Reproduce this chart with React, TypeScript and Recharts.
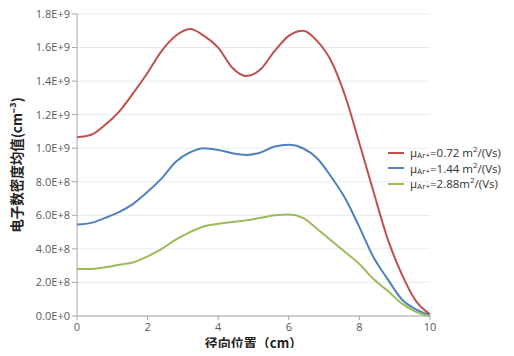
import React from "react";
import { LineChart, Line, XAxis, YAxis, CartesianGrid } from "recharts";

// radial position (cm)
const radius = [0, 0.4, 0.8, 1.2, 1.6, 2.0, 2.4, 2.8, 3.2, 3.6, 4.0, 4.4, 4.8, 5.2, 5.6, 6.0, 6.4, 6.8, 7.2, 7.6, 8.0, 8.4, 8.8, 9.2, 9.6, 10];

// mean electron density, in units of 1e9 cm^-3
const mu072 = [1.065, 1.08, 1.14, 1.22, 1.33, 1.45, 1.58, 1.67, 1.71, 1.67, 1.6, 1.48, 1.43, 1.47, 1.58, 1.67, 1.7, 1.64, 1.52, 1.31, 1.03, 0.74, 0.46, 0.25, 0.09, 0.01];
const mu144 = [0.545, 0.555, 0.585, 0.62, 0.67, 0.74, 0.82, 0.92, 0.975, 1.0, 0.99, 0.97, 0.96, 0.975, 1.01, 1.02, 1.0, 0.94, 0.83, 0.7, 0.53, 0.35, 0.22, 0.1, 0.04, 0.005];
const mu288 = [0.28, 0.28, 0.29, 0.305, 0.32, 0.355, 0.4, 0.455, 0.5, 0.535, 0.55, 0.56, 0.57, 0.585, 0.6, 0.605, 0.585, 0.52, 0.45, 0.38, 0.31, 0.22, 0.15, 0.075, 0.025, 0];

const xTicks = [0, 2, 4, 6, 8, 10];
const yTicks = [0, 2e8, 4e8, 6e8, 8e8, 1e9, 1.2e9, 1.4e9, 1.6e9, 1.8e9];

const seriesInfo = [
  { key: "a", value: "0.72", sep: " ", color: "#c0504d" },
  { key: "b", value: "1.44", sep: " ", color: "#4f81bd" },
  { key: "c", value: "2.88", sep: "", color: "#9bbb59" },
];

const data = radius.map((r, i) => ({
  r,
  a: mu072[i] * 1e9,
  b: mu144[i] * 1e9,
  c: mu288[i] * 1e9,
}));

const fmtY = (v: number) => v.toExponential(1).toUpperCase();

const tickFont = { fontSize: 11, fill: "#595959", fontFamily: "'Open Sans', sans-serif" };
const titleStyle = { fontSize: 13, fontWeight: 700, fill: "#222", fontFamily: "'Noto Sans CJK SC', sans-serif" };

// legend sits over the right margin of the chart
function MuLegend() {
  return (
    <div style={{ position: "absolute", left: 388, top: 145, fontFamily: "'Open Sans', sans-serif", color: "#333", fontSize: 11.5, lineHeight: "15.5px" }}>
      {seriesInfo.map((s) => (
        <div key={s.key} style={{ display: "flex", alignItems: "center", whiteSpace: "nowrap" }}>
          <span style={{ display: "inline-block", width: 16, height: 2, background: s.color, marginRight: 6 }} />
          <span>μ</span>
          <span style={{ fontSize: 8, position: "relative", top: 2 }}>Ar+</span>
          <span>{` =${s.value}${s.sep}m`}</span>
          <span style={{ fontSize: 8, position: "relative", top: -4 }}>2</span>
          <span>/(Vs)</span>
        </div>
      ))}
    </div>
  );
}

export default function App() {
  return (
    <div style={{ margin: -8, width: 514, height: 356, background: "#fff", position: "relative" }}>
      <LineChart width={514} height={356} data={data} margin={{ top: 14, right: 84, left: 7, bottom: 12 }}>
        <CartesianGrid vertical={false} stroke="#e6ebf1" />
        <XAxis
          dataKey="r"
          type="number"
          domain={[0, 10]}
          ticks={xTicks}
          tick={tickFont}
          tickSize={4}
          tickMargin={3}
          stroke="#a6a6a6"
          height={28}
          label={{ value: "径向位置（cm）", position: "insideBottom", offset: -4, style: titleStyle }}
        />
        <YAxis
          type="number"
          domain={[0, 1.8e9]}
          ticks={yTicks}
          tickFormatter={fmtY}
          tick={tickFont}
          tickSize={5}
          stroke="#a6a6a6"
          width={70}
          label={{ value: "电子数密度均值(cm⁻³)", angle: -90, position: "insideLeft", offset: 10, style: { ...titleStyle, fontSize: 13.5, textAnchor: "middle" } }}
        />
        {seriesInfo.map((s) => (
          <Line key={s.key} dataKey={s.key} type="monotone" stroke={s.color} strokeWidth={2} dot={false} isAnimationActive={false} />
        ))}
      </LineChart>
      <MuLegend />
    </div>
  );
}
